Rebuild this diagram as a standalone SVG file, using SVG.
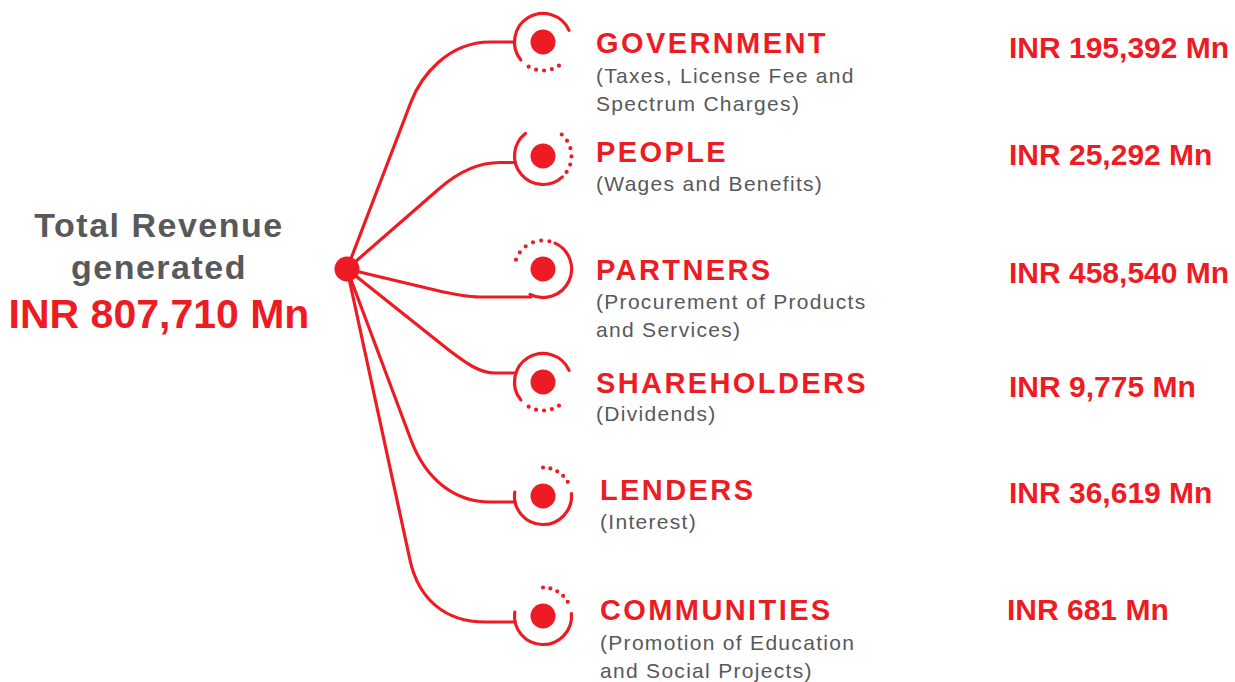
<svg xmlns="http://www.w3.org/2000/svg" width="1235" height="682" viewBox="0 0 1235 682">
<style>
.bg{fill:#ffffff}
.con{fill:none;stroke:#ed1c24;stroke-width:3.2;stroke-linecap:round}
.ring{fill:none;stroke:#ed1c24;stroke-width:3.2;stroke-linecap:round}
.dots{fill:none;stroke:#ed1c24;stroke-width:4.2;stroke-linecap:round;stroke-dasharray:0 1}
.dot{fill:#ed1c24}
.ttl{font-family:"Liberation Sans",Arial,sans-serif;font-weight:bold;font-size:34px;fill:#58595b;letter-spacing:1.5px;text-anchor:middle}
.tot{font-family:"Liberation Sans",Arial,sans-serif;font-weight:bold;font-size:41px;fill:#ed1c24;text-anchor:middle}
.lab{font-family:"Liberation Sans",Arial,sans-serif;font-weight:bold;font-size:29px;fill:#ed1c24;letter-spacing:2.4px}
.sub{font-family:"Liberation Sans",Arial,sans-serif;font-size:21px;fill:#58595b;letter-spacing:1.3px}
.val{font-family:"Liberation Sans",Arial,sans-serif;font-weight:bold;font-size:30px;fill:#ed1c24}
</style>
<rect class="bg" x="0" y="0" width="1235" height="682"/>

<g id="connectors">
<path class="con" d="M347,269 L411,102 C421,76 448,42 490,42 H514.5"/>
<path class="con" d="M347,269 L440,188 C455,175 475,162.5 500,162.5 H515.5"/>
<path class="con" d="M347,269 L435,290 C452,294 465,297 480,297 H531"/>
<path class="con" d="M347,269 L450,351 C462,360 478,373 495,373 H516"/>
<path class="con" d="M347,269 L411,440 C426,480 455,502 490,502 H515.2"/>
<path class="con" d="M347,269 L410,560 C418.5,599 445,622 485,622 H515.2"/>
</g>

<g id="hub">
<circle class="dot" cx="347" cy="269" r="12.5"/>
<text class="ttl" x="159" y="237">Total Revenue</text>
<text class="ttl" x="159" y="279">generated</text>
<text class="tot" x="159" y="328">INR 807,710 Mn</text>
</g>

<g id="government">
<g transform="translate(543,42)">
<path class="ring" d="M-22.15,17.93 A28.5,28.5 0 1 1 26.04,-11.59"/>
<path class="dots" pathLength="5" d="M15.94,23.63 A28.5,28.5 0 0 1 -20.5,19.8"/>
<circle class="dot" cx="0" cy="0" r="12.5"/>
</g>
<text class="lab" x="596" y="53">GOVERNMENT</text>
<text class="sub" x="596" y="83">(Taxes, License Fee and</text>
<text class="sub" x="596" y="111">Spectrum Charges)</text>
<text class="val" x="1009" y="58">INR 195,392 Mn</text>
</g>

<g id="people">
<g transform="translate(543,156)">
<path class="ring" d="M19.44,20.84 A28.5,28.5 0 1 1 -17.55,-22.46"/>
<path class="dots" pathLength="5" d="M18.7,-21.51 A28.5,28.5 0 0 1 23.63,15.94"/>
<circle class="dot" cx="0" cy="0" r="12.5"/>
</g>
<text class="lab" x="596" y="162">PEOPLE</text>
<text class="sub" x="596" y="191">(Wages and Benefits)</text>
<text class="val" x="1009" y="165">INR 25,292 Mn</text>
</g>

<g id="partners">
<g transform="translate(543,269)">
<path class="ring" d="M12.04,-25.83 A28.5,28.5 0 1 1 -12.94,25.39"/>
<path class="dots" pathLength="5" d="M-26.95,-9.28 A28.5,28.5 0 0 1 6.41,-27.77"/>
<circle class="dot" cx="0" cy="0" r="12.5"/>
</g>
<text class="lab" x="596" y="280">PARTNERS</text>
<text class="sub" x="596" y="309">(Procurement of Products</text>
<text class="sub" x="596" y="337">and Services)</text>
<text class="val" x="1009" y="283">INR 458,540 Mn</text>
</g>

<g id="shareholders">
<g transform="translate(543,382)">
<path class="ring" d="M-22.15,17.93 A28.5,28.5 0 1 1 26.04,-11.59"/>
<path class="dots" pathLength="5" d="M15.94,23.63 A28.5,28.5 0 0 1 -20.5,19.8"/>
<circle class="dot" cx="0" cy="0" r="12.5"/>
</g>
<text class="lab" x="596" y="393">SHAREHOLDERS</text>
<text class="sub" x="596" y="421">(Dividends)</text>
<text class="val" x="1009" y="397">INR 9,775 Mn</text>
</g>

<g id="lenders">
<g transform="translate(543,496)">
<path class="ring" d="M28.39,-2.48 A28.5,28.5 0 1 1 -28.22,-3.97"/>
<path class="dots" pathLength="5" d="M0,-28.5 A28.5,28.5 0 0 1 27.53,-7.38"/>
<circle class="dot" cx="0" cy="0" r="12.5"/>
</g>
<text class="lab" x="600" y="500">LENDERS</text>
<text class="sub" x="600" y="529">(Interest)</text>
<text class="val" x="1009" y="503">INR 36,619 Mn</text>
</g>

<g id="communities">
<g transform="translate(543,616)">
<path class="ring" d="M28.39,-2.48 A28.5,28.5 0 1 1 -28.22,-3.97"/>
<path class="dots" pathLength="5" d="M0,-28.5 A28.5,28.5 0 0 1 27.53,-7.38"/>
<circle class="dot" cx="0" cy="0" r="12.5"/>
</g>
<text class="lab" x="600" y="620">COMMUNITIES</text>
<text class="sub" x="600" y="650">(Promotion of Education</text>
<text class="sub" x="600" y="678">and Social Projects)</text>
<text class="val" x="1007" y="620">INR 681 Mn</text>
</g>
</svg>
